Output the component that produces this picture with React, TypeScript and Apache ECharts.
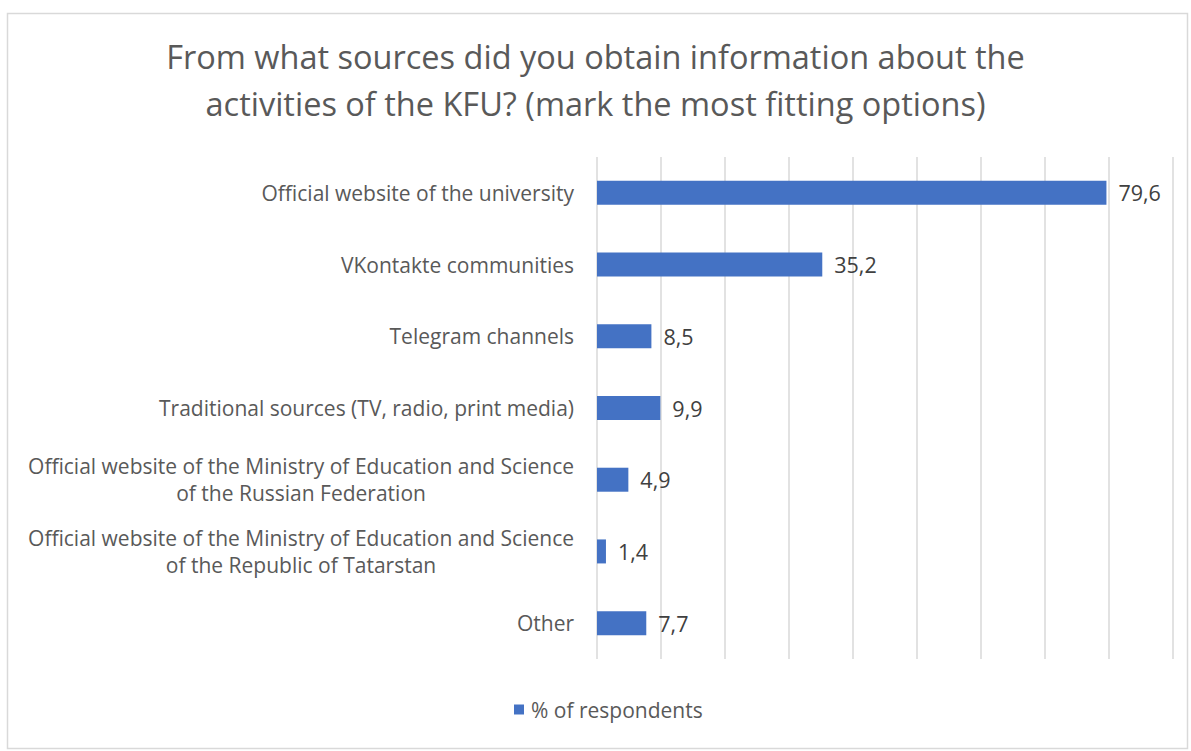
import React, { useEffect, useRef } from "react";
import * as echarts from "echarts";

const titleLines = [
  "From what sources did you obtain information about the",
  "activities of the KFU? (mark the most fitting options)",
];
const categories = [
  "Official website of the university",
  "VKontakte communities",
  "Telegram channels",
  "Traditional sources (TV, radio, print media)",
  "Official website of the Ministry of Education and Science\nof the Russian Federation",
  "Official website of the Ministry of Education and Science\nof the Republic of Tatarstan",
  "Other",
];
const values = [79.6, 35.2, 8.5, 9.9, 4.9, 1.4, 7.7];
const seriesName = "% of respondents";
const xMin = 0;
const xMax = 90;
const xInterval = 10;

const FONT = "'Open Sans', Lato, sans-serif";

export default function App() {
  const ref = useRef<HTMLDivElement>(null);
  useEffect(() => {
    if (!ref.current) return;
    const chart = echarts.init(ref.current, null, { renderer: "svg" });
    chart.setOption({
      animation: false,
      backgroundColor: "#ffffff",
      graphic: [
        {
          type: "rect",
          z: -10,
          shape: { x: 7.5, y: 13.5, width: 1180, height: 735 },
          style: { fill: "#ffffff", stroke: "#D9D9D9", lineWidth: 1.5 },
          silent: true,
        },
      ],
      title: {
        text: titleLines.join("\n"),
        left: "center",
        top: 28,
        textStyle: {
          fontFamily: FONT,
          fontSize: 32.5,
          fontWeight: "normal",
          color: "#595959",
          lineHeight: 47,
        },
      },
      legend: {
        bottom: 26,
        left: 509,
        icon: "rect",
        itemWidth: 10,
        itemHeight: 10,
        itemGap: 10,
        textStyle: { fontFamily: FONT, fontSize: 21, color: "#595959", padding: [0, 0, 0, 2] },
        data: [seriesName],
      },
      grid: { left: 597, right: 18, top: 157, bottom: 92, containLabel: false },
      xAxis: {
        type: "value",
        min: xMin,
        max: xMax,
        interval: xInterval,
        axisLabel: { show: false },
        axisLine: { show: false },
        axisTick: { show: false },
        splitLine: { show: true, lineStyle: { color: "#D9D9D9", width: 1.5 } },
      },
      yAxis: {
        type: "category",
        inverse: true,
        data: categories,
        axisLine: { show: false },
        axisTick: { show: false },
        axisLabel: {
          margin: 23,
          fontFamily: FONT,
          fontSize: 21,
          color: "#595959",
          lineHeight: 27,
          formatter: (v: string) =>
            v
              .split("\n")
              .map((l) => `{c|${l}}`)
              .join("\n"),
          rich: {
            c: {
              align: "center",
              fontFamily: FONT,
              fontSize: 21,
              color: "#595959",
              lineHeight: 27,
            },
          },
        },
      },
      series: [
        {
          name: seriesName,
          type: "bar",
          data: values,
          barWidth: 24,
          itemStyle: { color: "#4472C4" },
          label: {
            show: true,
            position: "right",
            distance: 12,
            fontFamily: FONT,
            fontSize: 21.5,
            color: "#404040",
            formatter: (p: any) => String(p.value).replace(".", ","),
          },
        },
      ],
    });
    return () => chart.dispose();
  }, []);
  return (
    <div
      ref={ref}
      style={{ position: "absolute", left: 0, top: 0, width: 1191, height: 751 }}
    />
  );
}
